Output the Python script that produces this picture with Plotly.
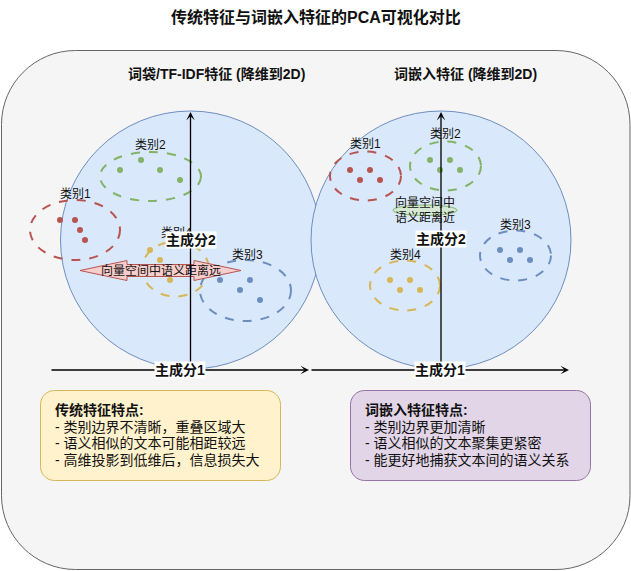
import plotly.graph_objects as go

W, H = 631, 571
FONT = "Liberation Sans, Arial, Noto Sans CJK SC, sans-serif"

# ---------------- data ----------------
title = "传统特征与词嵌入特征的PCA可视化对比"
panel_titles = ["词袋/TF-IDF特征 (降维到2D)", "词嵌入特征 (降维到2D)"]
axis_labels = ["主成分1", "主成分2"]
category_names = ["类别1", "类别2", "类别3", "类别4"]
category_colors = ["#b85450", "#82b366", "#6c8ebf", "#d6b656"]

# left panel (traditional features) – point coordinates in diagram pixels
left_x = {
    "类别1": [60, 75, 80, 85],
    "类别2": [141, 120, 160, 180],
    "类别3": [220, 250, 240, 260],
    "类别4": [150, 160, 170],
}
left_y = {
    "类别1": [220, 220, 230, 240],
    "类别2": [160, 170, 170, 180],
    "类别3": [280, 280, 290, 300],
    "类别4": [250, 260, 280],
}
# right panel (word embeddings)
right_x = {
    "类别1": [350, 370, 360, 380],
    "类别2": [430, 450, 440, 460],
    "类别3": [500, 520, 510, 530],
    "类别4": [390, 410, 400, 420],
}
right_y = {
    "类别1": [170, 170, 180, 180],
    "类别2": [160, 160, 170, 170],
    "类别3": [250, 250, 260, 260],
    "类别4": [280, 280, 290, 290],
}

far_label = "向量空间中语义距离远"
near_label = ["向量空间中", "语义距离近"]

left_notes = ["传统特征特点:", "- 类别边界不清晰，重叠区域大",
              "- 语义相似的文本可能相距较远", "- 高维投影到低维后，信息损失大"]
right_notes = ["词嵌入特征特点:", "- 类别边界更加清晰",
               "- 语义相似的文本聚集更紧密", "- 能更好地捕获文本间的语义关系"]

# ---------------- figure ----------------
fig = go.Figure()
shapes = []
ann = []

K = 0.5523


def rrect(x0, y0, x1, y1, r):
    k = r * (1 - K)
    return (f"M{x0+r},{y0} L{x1-r},{y0} C{x1-k},{y0} {x1},{y0+k} {x1},{y0+r} "
            f"L{x1},{y1-r} C{x1},{y1-k} {x1-k},{y1} {x1-r},{y1} "
            f"L{x0+r},{y1} C{x0+k},{y1} {x0},{y1-k} {x0},{y1-r} "
            f"L{x0},{y0+r} C{x0},{y0+k} {x0+k},{y0} {x0+r},{y0} Z")


# outer container
shapes.append(dict(type="path", path=rrect(1.5, 50.5, 630, 569.5, 74), layer="below",
                   fillcolor="#f5f5f5", line=dict(color="#666666", width=1)))
# big circles
for cx in (190.5, 441):
    shapes.append(dict(type="circle", x0=cx - 130, x1=cx + 130, y0=111, y1=369,
                       layer="below", fillcolor="#dae8fc",
                       line=dict(color="#6c8ebf", width=1)))


def dashed_ellipse(cx, cy, rx, ry, color):
    shapes.append(dict(type="circle", x0=cx - rx, x1=cx + rx, y0=cy - ry, y1=cy + ry,
                       layer="below", fillcolor="rgba(0,0,0,0)",
                       line=dict(color=color, width=2, dash="dash")))


# left ellipses
dashed_ellipse(75, 230, 45, 30, "#b85450")
dashed_ellipse(150.5, 176.5, 50.5, 24.5, "#82b366")
dashed_ellipse(245.5, 290.5, 45.5, 30.5, "#6c8ebf")
dashed_ellipse(175.5, 269, 33.5, 27.5, "#d6b656")
# right ellipses
dashed_ellipse(365.5, 176, 35.5, 24.5, "#b85450")
dashed_ellipse(445.5, 166, 35.5, 24.5, "#82b366")
dashed_ellipse(515.5, 255.5, 35.5, 25, "#6c8ebf")
dashed_ellipse(405, 285.5, 35, 25, "#d6b656")

# small green ellipse (near)
shapes.append(dict(type="circle", x0=393, x1=457, y0=205, y1=215.5, layer="below",
                   fillcolor="#d5e8d4", line=dict(color="#82b366", width=1)))

# pink double arrow (far)
ya, ys, yh = 270.5, 6, 10
arrow = (f"M80,{ya} L127,{ya-yh} L127,{ya-ys} L194,{ya-ys} L194,{ya-yh} L241,{ya} "
         f"L194,{ya+yh} L194,{ya+ys} L127,{ya+ys} L127,{ya+yh} Z")
shapes.append(dict(type="path", path=arrow, layer="above", fillcolor="#f8cecc",
                   line=dict(color="#b85450", width=1)))

# axis lines (drawn above)
axes = [((50, 370), (309, 370)), ((190.5, 370), (190.5, 112)),
        ((310, 370), (569, 370)), ((441, 370), (441, 112))]
for (x0, y0), (x1, y1) in axes:
    ann.append(dict(x=x1, y=y1, ax=x0, ay=y0, xref="x", yref="y", axref="x", ayref="y",
                    text="", showarrow=True, arrowhead=3, arrowsize=1.1, arrowwidth=1.3,
                    arrowcolor="#000000", standoff=0))

# bottom note boxes
shapes.append(dict(type="path", path=rrect(40.5, 390.5, 280.5, 480.5, 14), layer="below",
                   fillcolor="#fff2cc", line=dict(color="#d6b656", width=1)))
shapes.append(dict(type="path", path=rrect(350.5, 390.5, 590.5, 480.5, 14), layer="below",
                   fillcolor="#e1d5e7", line=dict(color="#9673a6", width=1)))

# points
for name, color in zip(category_names, category_colors):
    fig.add_trace(go.Scatter(x=left_x[name], y=left_y[name], mode="markers",
                             marker=dict(size=6, color=color), showlegend=False,
                             hoverinfo="skip"))
    fig.add_trace(go.Scatter(x=right_x[name], y=right_y[name], mode="markers",
                             marker=dict(size=6, color=color), showlegend=False,
                             hoverinfo="skip"))


def text(x, y, s, size=12, bold=False, xanchor="center", bg=None, color="#111111"):
    d = dict(x=x, y=y, xref="x", yref="y", text=f"<b>{s}</b>" if bold else s,
             showarrow=False, xanchor=xanchor, yanchor="middle",
             font=dict(family=FONT, size=size, color=color))
    if bg:
        d["bgcolor"] = bg
        d["borderpad"] = 0
    ann.append(d)


text(315.5, 17, title, 16, True)
text(216, 74, panel_titles[0], 14, True)
text(465, 74, panel_titles[1], 14, True)

# category labels
text(75, 194, "类别1")
text(150, 145, "类别2")
text(247, 255, "类别3")
text(176, 233, "类别4")
text(365, 144, "类别1")
text(445, 134, "类别2")
text(515, 225, "类别3")
text(405, 255, "类别4")

# relation labels
text(160.5, 270.5, far_label)
text(425, 202, near_label[0])
text(425, 217, near_label[1])

# axis labels
text(180, 370, axis_labels[0], 14, True, bg="#ffffff")
text(190.5, 240, axis_labels[1], 14, True, bg="#ffffff")
text(440, 370, axis_labels[0], 14, True, bg="#ffffff")
text(441, 239, axis_labels[1], 14, True, bg="#ffffff")

# notes
for i, s in enumerate(left_notes):
    text(52.5, 410 + i * 16.6, s, 14, i == 0, xanchor="left")
for i, s in enumerate(right_notes):
    text(362.5, 410 + i * 16.6, s, 14, i == 0, xanchor="left")

fig.update_layout(
    width=W, height=H, margin=dict(l=0, r=0, t=0, b=0),
    paper_bgcolor="#ffffff", plot_bgcolor="#ffffff",
    xaxis=dict(range=[0, W], visible=False, fixedrange=True),
    yaxis=dict(range=[H, 0], visible=False, fixedrange=True),
    shapes=shapes, annotations=ann, showlegend=False,
)
fig.write_html("out.html", config={"displayModeBar": False},
               post_script="document.body.style.margin='0px';"
                           "document.body.style.overflow='hidden';")
